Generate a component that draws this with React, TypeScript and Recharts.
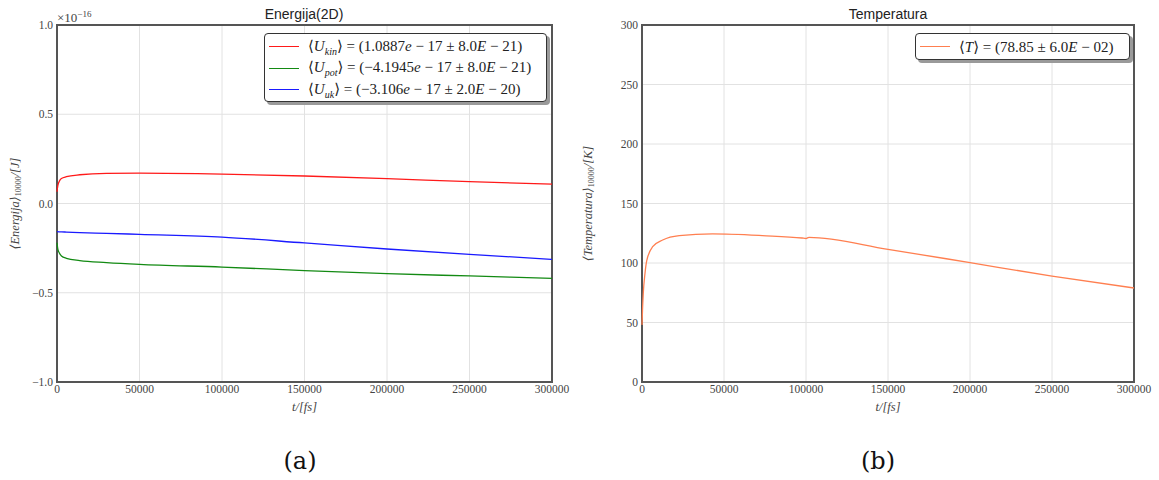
import React from "react";
import { LineChart, Line, XAxis, YAxis, CartesianGrid, Legend, ReferenceArea, Label } from "recharts";

// energies in units of 1e-16 J
const TIME = [0, 500, 1600, 2700, 5700, 13800, 30000, 50000, 100000, 150000, 200000, 250000, 300000];
const U_KIN = [0.066, 0.1, 0.128, 0.14, 0.15, 0.161, 0.169, 0.17, 0.165, 0.154, 0.139, 0.122, 0.108];
const U_POT = [-0.22, -0.255, -0.28, -0.294, -0.307, -0.32, -0.331, -0.341, -0.356, -0.376, -0.393, -0.406, -0.419];
const U_UK = [-0.158, -0.158, -0.159, -0.159, -0.16, -0.163, -0.167, -0.173, -0.188, -0.221, -0.255, -0.285, -0.313];

const T_TIME = [0, 300, 800, 1800, 2900, 6500, 12600, 22700, 43000, 73400, 97600, 100000, 101800, 150000, 200000, 250000, 300000];
const TEMP = [48, 60, 75, 91, 102, 113.7, 119.3, 123, 124.4, 123, 121, 120.6, 121.6, 111.5, 100.3, 89, 79];

const X_TICKS = [0, 50000, 100000, 150000, 200000, 250000, 300000];
const E_TICKS = [-1, -0.5, 0, 0.5, 1];
const T_TICKS = [0, 50, 100, 150, 200, 250, 300];

const E_LEGEND = [
  { sub: "kin", mean: "1.0887", err: "8.0", errExp: "21" },
  { sub: "pot", mean: "−4.1945", err: "8.0", errExp: "21" },
  { sub: "uk", mean: "−3.106", err: "2.0", errExp: "20" },
];
const T_LEGEND = { mean: "78.85", err: "6.0", errExp: "02" };

const energyData = TIME.map((t, i) => ({ t, kin: U_KIN[i], pot: U_POT[i], uk: U_UK[i] }));
const tempData = T_TIME.map((t, i) => ({ t, temp: TEMP[i] }));

const SERIF = "'Liberation Serif', 'DejaVu Serif', serif";
const tick = { fill: "#444", fontSize: 11.5, fontFamily: SERIF };
const fmtE = (v: number) => (v === 0 ? "0.0" : v.toFixed(1).replace("-", "−"));

const legendBox: React.CSSProperties = {
  background: "#fff",
  border: "1.5px solid #333",
  borderRadius: 4,
  boxShadow: "3px 3px 0 #9a9a9a",
  fontFamily: SERIF,
  fontSize: 15,
  color: "#222",
  boxSizing: "border-box",
};

function Row({ color, children }: { color: string; children: React.ReactNode }) {
  return (
    <div style={{ display: "flex", alignItems: "center", height: 21.5 }}>
      <span style={{ width: 30, height: 0, borderTop: `1.5px solid ${color}`, marginRight: 9 }} />
      <span style={{ whiteSpace: "nowrap" }}>{children}</span>
    </div>
  );
}

const EnergyLegend = (props: any) => {
  const items = props.payload || [];
  return (
    <div style={{ ...legendBox, width: 283, height: 69, padding: "2px 4px" }}>
      {E_LEGEND.map((e, i) => (
        <Row key={e.sub} color={items[i]?.color ?? "#000"}>
          ⟨<i>U</i><sub style={{ fontSize: 10, fontStyle: "italic" }}>{e.sub}</sub>⟩ = ({e.mean}<i>e</i> − 17 ± {e.err}<i>E</i> − {e.errExp})
        </Row>
      ))}
    </div>
  );
};

const TempLegend = (props: any) => {
  const items = props.payload || [];
  return (
    <div style={{ ...legendBox, width: 215, height: 27, padding: "2px 4px" }}>
      <Row color={items[0]?.color ?? "coral"}>
        ⟨<i>T</i>⟩ = ({T_LEGEND.mean} ± {T_LEGEND.err}<i>E</i> − {T_LEGEND.errExp})
      </Row>
    </div>
  );
};

const yLabel = (main: string, unit: string, dx: number) => (props: any) => {
  const vb = props.viewBox;
  const cx = vb.x + dx;
  const cy = vb.y + vb.height / 2;
  return (
    <text transform={`rotate(-90 ${cx} ${cy})`} x={cx} y={cy} textAnchor="middle" dominantBaseline="central"
      fill="#444" fontFamily={SERIF} fontSize={12.5} fontStyle="italic">
      ⟨{main}⟩<tspan fontSize={8} fontStyle="normal" dy={3}>10000</tspan><tspan dy={-3}>/[{unit}]</tspan>
    </text>
  );
};

const xLabel = (props: any) => {
  const vb = props.viewBox;
  return (
    <text x={vb.x + vb.width / 2} y={vb.y + 29} textAnchor="middle" fill="#444" fontFamily={SERIF} fontSize={12.5} fontStyle="italic">
      t/[fs]
    </text>
  );
};

const title: React.CSSProperties = {
  position: "absolute",
  top: 6,
  fontFamily: "'Liberation Sans', Arial, sans-serif",
  fontSize: 14,
  color: "#222",
  transform: "translateX(-50%)",
  whiteSpace: "nowrap",
};

const caption: React.CSSProperties = {
  position: "absolute",
  top: 447,
  fontFamily: "'DejaVu Serif', serif",
  fontSize: 24,
  color: "#111",
  transform: "translateX(-50%)",
};

export default function App() {
  return (
    <div style={{ position: "absolute", left: 0, top: 0, width: 1159, height: 480, background: "#fff" }}>
      <div style={{ position: "absolute", left: 0, top: 0 }}>
        <LineChart width={600} height={420} data={energyData} margin={{ top: 25, right: 48, bottom: 0, left: 0 }}>
          <CartesianGrid stroke="#e2e2e2" strokeWidth={1} />
          <XAxis dataKey="t" type="number" domain={[0, 300000]} ticks={X_TICKS} tick={tick} tickLine={false} axisLine={false}
            tickSize={0} tickMargin={3} height={38} interval={0}>
            <Label content={xLabel} />
          </XAxis>
          <YAxis type="number" domain={[-1, 1]} ticks={E_TICKS} tick={tick} tickFormatter={fmtE} tickLine={false} axisLine={false}
            tickSize={0} tickMargin={4} width={57} interval={0} allowDataOverflow>
            <Label content={yLabel("Energija", "J", 15)} />
          </YAxis>
          <Line dataKey="kin" stroke="#ff1a1a" strokeWidth={1.3} dot={false} type="monotone" isAnimationActive={false} />
          <Line dataKey="pot" stroke="#138a13" strokeWidth={1.3} dot={false} type="monotone" isAnimationActive={false} />
          <Line dataKey="uk" stroke="#1a1aff" strokeWidth={1.3} dot={false} type="monotone" isAnimationActive={false} />
          <ReferenceArea x1={0} x2={300000} y1={-1} y2={1} fill="none" stroke="#555" strokeWidth={2} ifOverflow="visible" />
          <Legend layout="vertical" align="center" verticalAlign="middle" content={EnergyLegend}
            wrapperStyle={{ top: 33, left: 264, width: 283 }} />
        </LineChart>
      </div>
      <div style={{ ...title, left: 304 }}>Energija(2D)</div>
      <div style={{ position: "absolute", left: 57, top: 9, fontFamily: SERIF, fontSize: 13, color: "#444" }}>
        ×10<sup style={{ fontSize: 9 }}>−16</sup>
      </div>

      <div style={{ position: "absolute", left: 580, top: 0 }}>
        <LineChart width={579} height={420} data={tempData} margin={{ top: 25, right: 25, bottom: 0, left: 0 }}>
          <CartesianGrid stroke="#e2e2e2" strokeWidth={1} />
          <XAxis dataKey="t" type="number" domain={[0, 300000]} ticks={X_TICKS} tick={tick} tickLine={false} axisLine={false}
            tickSize={0} tickMargin={3} height={38} interval={0}>
            <Label content={xLabel} />
          </XAxis>
          <YAxis type="number" domain={[0, 300]} ticks={T_TICKS} tick={tick} tickLine={false} axisLine={false}
            tickSize={0} tickMargin={4} width={62} interval={0}>
            <Label content={yLabel("Temperatura", "K", 8)} />
          </YAxis>
          <Line dataKey="temp" stroke="#ff7f50" strokeWidth={1.3} dot={false} type="monotone" isAnimationActive={false} />
          <ReferenceArea x1={0} x2={300000} y1={0} y2={300} fill="none" stroke="#555" strokeWidth={2} ifOverflow="visible" />
          <Legend layout="vertical" align="center" verticalAlign="middle" content={TempLegend}
            wrapperStyle={{ top: 33, left: 335, width: 215 }} />
        </LineChart>
      </div>
      <div style={{ ...title, left: 888 }}>Temperatura</div>

      <div style={{ ...caption, left: 300 }}>(a)</div>
      <div style={{ ...caption, left: 878 }}>(b)</div>
    </div>
  );
}
